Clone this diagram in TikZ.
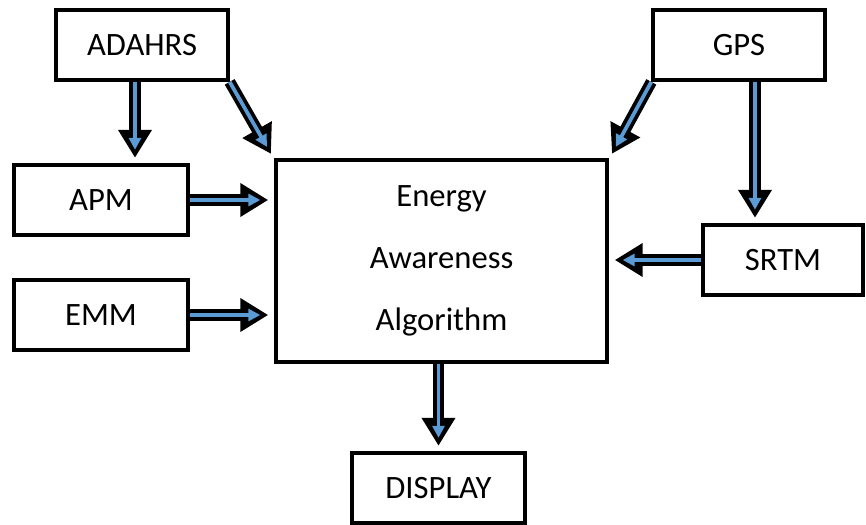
\documentclass[tikz,border=0pt]{standalone}
\usepackage{fontspec}
\setmainfont{Carlito}
\usetikzlibrary{arrows.meta,positioning,calc}

\definecolor{arrowblue}{RGB}{91,155,213}

\tikzset{
    blockbox/.style={draw, line width=3pt, minimum width=#1*0.7484pt, minimum height=52.4pt,
        inner sep=0pt, font=\fontsize{24.5}{28}\selectfont},
    blockbox/.default=172,
    arr/.style={line width=8.5pt, -{Triangle[length=21pt,width=24pt]}, shorten >=4pt,
        postaction={draw=arrowblue, line width=2.8pt, -{Triangle[length=9pt,width=9pt]}, shorten >=10pt}}
}

\begin{document}
\begin{tikzpicture}[x=0.0264cm, y=-0.0264cm]
    \useasboundingbox (0,0) rectangle (866,524);

    % Boxes
    \node[blockbox=172] (adahrs) at (142,45) {ADAHRS};
    \node[blockbox=172] (gps) at (739,45) {GPS};
    \node[blockbox=174] (apm) at (101,200) {APM};
    \node[blockbox=174] (emm) at (101,315) {EMM};
    \node[blockbox=160] (srtm) at (783,260) {SRTM};
    \node[blockbox=173] (display) at (438.5,488) {DISPLAY};
    \node[blockbox=333, minimum height=151, align=center,
          font=\fontsize{24.5}{46.5}\selectfont] (eaa) at (441.5,261)
        {Energy\\Awareness\\Algorithm};

    % Arrows
    \draw[arr] (adahrs.south -| 135,0) -- (apm.north -| 135,0);
    \draw[arr] (adahrs.south east) -- (eaa.north west);
    \draw[arr] (gps.south west) -- (eaa.north east);
    \draw[arr] (gps.south -| 755,0) -- (srtm.north -| 755,0);
    \draw[arr] (apm.east) -- (apm.east -| eaa.west);
    \draw[arr] (emm.east) -- (emm.east -| eaa.west);
    \draw[arr] (srtm.west) -- (srtm.west -| eaa.east);
    \draw[arr] (eaa.south -| display.north) -- (display.north);
\end{tikzpicture}
\end{document}
